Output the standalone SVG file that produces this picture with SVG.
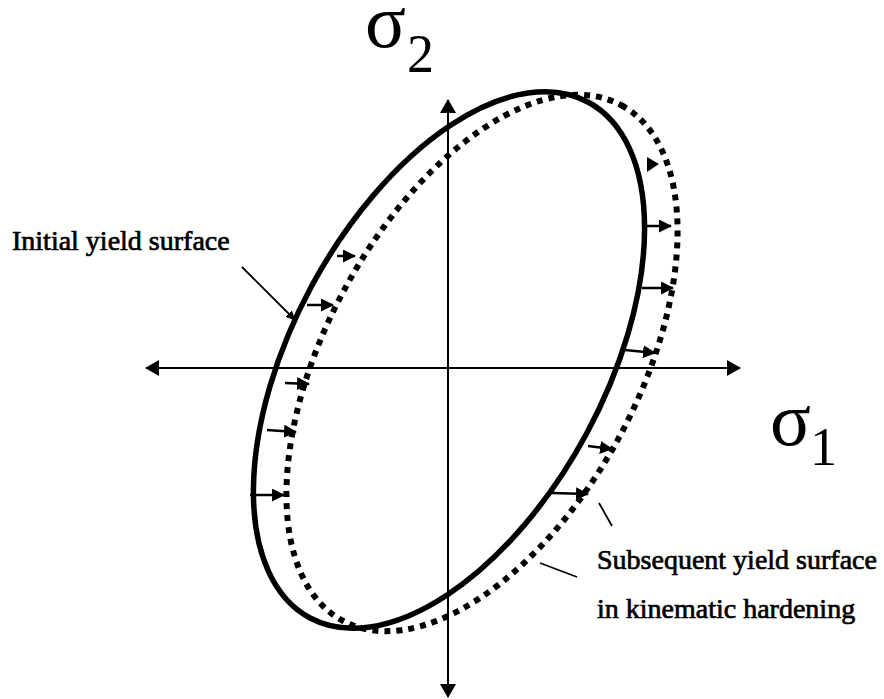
<svg xmlns="http://www.w3.org/2000/svg" width="884" height="699" viewBox="0 0 884 699">
<defs>
<marker id="ax" markerWidth="14" markerHeight="16" refX="13" refY="8" orient="auto" markerUnits="userSpaceOnUse"><path d="M0,0 L14,8 L0,16 Z" fill="#000"/></marker>
<marker id="sm" markerWidth="13" markerHeight="13" refX="12" refY="6.5" orient="auto" markerUnits="userSpaceOnUse"><path d="M0,0 L13,6.5 L0,13 Z" fill="#000"/></marker>
<marker id="ld" markerWidth="10" markerHeight="9" refX="9" refY="4.5" orient="auto" markerUnits="userSpaceOnUse"><path d="M0,0 L10,4.5 L0,9 Z" fill="#000"/></marker>
</defs>
<style>
.axis{stroke:#000;stroke-width:2;fill:none}
.solid{stroke:#000;stroke-width:5.5;fill:none}
.dotted{stroke:#000;stroke-width:6;fill:none;stroke-dasharray:6 6}
.sa{stroke:#000;stroke-width:2.5;fill:none;marker-end:url(#sm)}
.lead{stroke:#000;stroke-width:1.8;fill:none}
.lbl{font-family:"Liberation Serif","Times New Roman",serif;font-size:28px;fill:#000;stroke:#000;stroke-width:0.7}
.sig{font-family:"Liberation Serif","Times New Roman",serif;fill:#000}
</style>
<rect width="884" height="699" fill="#fff"/>
<g id="axes">
<line class="axis" x1="448" y1="368" x2="146" y2="368" marker-end="url(#ax)"/>
<line class="axis" x1="448" y1="368" x2="740" y2="368" marker-end="url(#ax)"/>
<line class="axis" x1="448" y1="368" x2="448" y2="100" marker-end="url(#ax)"/>
<line class="axis" x1="448" y1="368" x2="448" y2="697" marker-end="url(#ax)"/>
</g>
<g id="initial-surface">
<ellipse class="solid" cx="0" cy="0" rx="293" ry="156" transform="translate(449,360) rotate(-61.6)"/>
</g>
<g id="subsequent-surface">
<ellipse class="dotted" cx="0" cy="0" rx="293" ry="156" transform="translate(482,363) rotate(-61.6)"/>
</g>
<g id="connectors">
<line class="sa" x1="337" y1="256" x2="355" y2="256"/>
<line class="sa" x1="307" y1="305" x2="333" y2="305"/>
<line class="sa" x1="285" y1="383" x2="309" y2="384"/>
<line class="sa" x1="267" y1="430" x2="296" y2="432"/>
<line class="sa" x1="250" y1="495" x2="284" y2="495"/>
<path d="M647,157 L659,164 L647,172 Z" fill="#000"/>
<line class="sa" x1="647" y1="226" x2="671" y2="226"/>
<line class="sa" x1="642" y1="288" x2="673" y2="288"/>
<line class="sa" x1="625" y1="350" x2="655" y2="353"/>
<line class="sa" x1="588" y1="446" x2="612" y2="449"/>
<line class="sa" x1="552" y1="493" x2="588" y2="494"/>
<line class="lead" x1="242" y1="267" x2="295" y2="320" marker-end="url(#ld)"/>
<line class="lead" x1="599" y1="503" x2="612" y2="526"/>
<line class="lead" x1="577" y1="577" x2="540" y2="563"/>
</g>
<g id="labels">
<text class="lbl" x="12" y="250">Initial yield surface</text>
<text class="lbl" x="597" y="569">Subsequent yield surface</text>
<text class="lbl" x="597" y="618">in kinematic hardening</text>
<text class="sig" x="365" y="47" font-size="76">σ</text>
<text class="sig" x="407" y="72" font-size="54">2</text>
<text class="sig" x="770" y="445" font-size="76">σ</text>
<text class="sig" x="810" y="465" font-size="54">1</text>
</g>
</svg>
